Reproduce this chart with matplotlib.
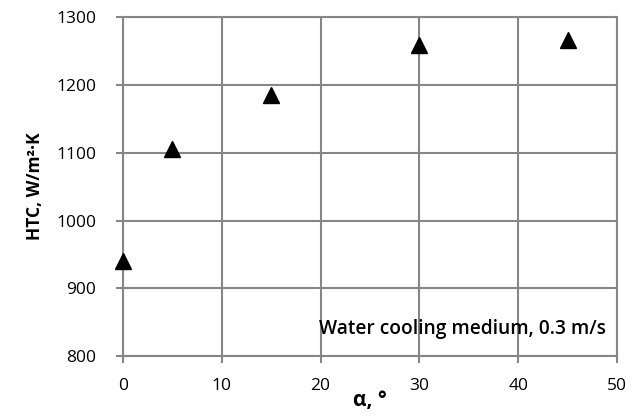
import matplotlib
matplotlib.use("Agg")
import matplotlib.pyplot as plt

angle = [0, 5, 15, 30, 45]
htc = [940, 1106, 1185, 1259, 1266]
xticks = [0, 10, 20, 30, 40, 50]
yticks = [800, 900, 1000, 1100, 1200, 1300]

plt.rcParams['font.family'] = ['Open Sans', 'DejaVu Sans']
grey = '#868686'

fig = plt.figure(figsize=(6.4, 4.19), dpi=100)
ax = fig.add_axes([0.192, 0.150, 0.772, 0.809])
ax.plot(angle, htc, linestyle='none', marker='^', color='black', markersize=12, zorder=3, clip_on=False)
ax.set_xlim(0, 50)
ax.set_ylim(800, 1300)
ax.set_xticks(xticks)
ax.set_yticks(yticks)
ax.grid(True, color=grey, linewidth=1.5)
ax.set_axisbelow(True)
for s in ax.spines.values():
    s.set_color(grey)
    s.set_linewidth(1.5)
ax.tick_params(axis='both', colors=grey, length=5, width=1.5, labelsize=12.5, labelcolor='black')
ax.tick_params(axis='y', pad=14)
ax.tick_params(axis='x', pad=11)
ax.set_ylabel('HTC, W/m²·K', fontsize=12.5, fontweight='bold', labelpad=9)
ax.set_xlabel('α, °', fontsize=15, fontweight='bold', labelpad=-3)
ax.text(0.978, 0.08, 'Water cooling medium, 0.3 m/s', transform=ax.transAxes,
        ha='right', va='center', fontsize=13.8, fontweight='semibold')
fig.savefig('out.png', dpi=100)
